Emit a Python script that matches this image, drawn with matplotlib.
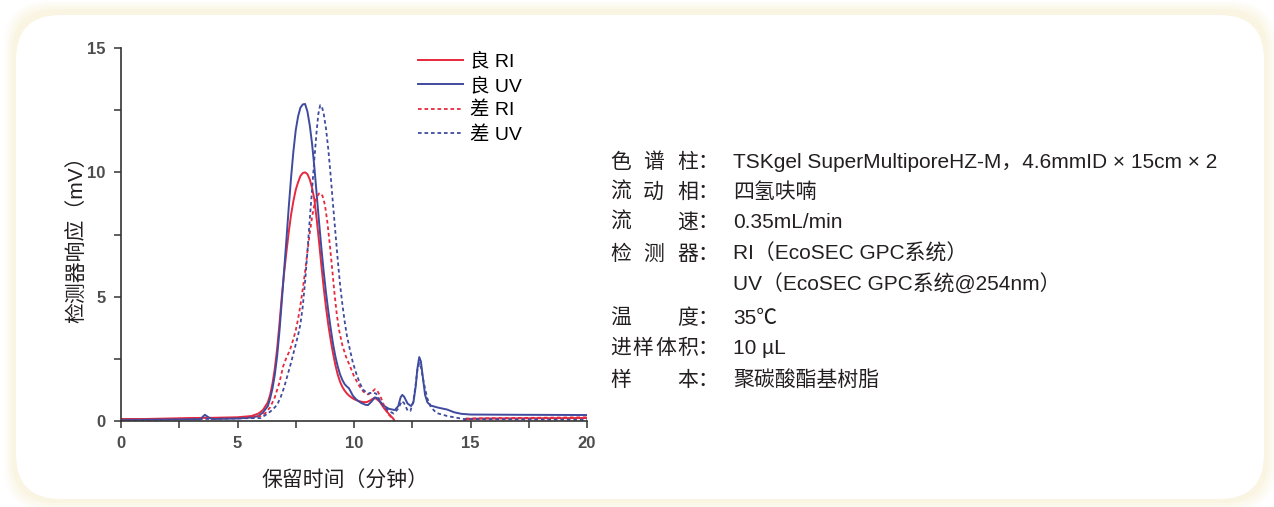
import matplotlib
matplotlib.use("Agg")
import matplotlib.pyplot as plt
from matplotlib.patches import FancyBboxPatch
from matplotlib.ticker import MultipleLocator

plt.rcParams['font.family'] = ['Liberation Sans', 'Noto Sans CJK SC', 'DejaVu Sans']

# chromatogram traces: retention time (min) / detector response (mV)
good_ri_t = [0, 1, 2, 3, 4, 5, 5.6, 5.9, 6.1, 6.3, 6.4, 6.5, 6.6, 6.7, 6.8, 6.9, 7.0, 7.1,
             7.2, 7.3, 7.4, 7.5, 7.6, 7.7, 7.8, 7.9, 8.0, 8.1, 8.2, 8.3, 8.4, 8.5, 8.6, 8.7,
             8.8, 8.9, 9.0, 9.1, 9.2, 9.3, 9.4, 9.5, 9.6, 9.7, 9.8, 9.9, 10.0, 10.2, 10.4,
             10.55, 10.7, 10.85, 10.95, 11.1, 11.3, 11.5, 11.7, 11.85, 12.2, 14.5, 14.8,
             15.5, 20]
good_ri_v = [0.08, 0.08, 0.1, 0.12, 0.13, 0.15, 0.2, 0.3, 0.45, 0.75, 1.05, 1.5, 2.1, 2.9,
             3.9, 5.0, 5.95, 6.8, 7.6, 8.3, 8.85, 9.3, 9.6, 9.85, 9.97, 10.0, 9.93, 9.72,
             9.38, 8.9, 8.1, 7.2, 6.25, 5.35, 4.55, 3.85, 3.25, 2.72, 2.25, 1.87, 1.58, 1.37,
             1.22, 1.1, 1.01, 0.94, 0.88, 0.8, 0.76, 0.76, 0.83, 0.92, 0.9, 0.78, 0.5, 0.28,
             0.08, -0.3, -0.6, -0.3, 0.08, 0.1, 0.12]

good_uv_t = [0, 3.4, 3.6, 3.75, 3.9, 5, 5.6, 5.9, 6.1, 6.3, 6.4, 6.5, 6.6, 6.7, 6.8, 6.9,
             7.0, 7.1, 7.2, 7.3, 7.4, 7.5, 7.6, 7.7, 7.8, 7.9, 8.0, 8.1, 8.2, 8.3, 8.4, 8.5,
             8.6, 8.7, 8.8, 8.9, 9.0, 9.1, 9.2, 9.3, 9.4, 9.5, 9.6, 9.7, 9.78, 9.85, 9.95,
             10.1, 10.3, 10.5, 10.6, 10.75, 10.9, 11.0, 11.15, 11.3, 11.5, 11.75, 11.9, 12.0,
             12.07, 12.15, 12.3, 12.45, 12.55, 12.65, 12.72, 12.8, 12.87, 12.95, 13.05, 13.15,
             13.3, 13.6, 14.0, 14.3, 14.6, 15, 17, 20]
good_uv_v = [0.05, 0.07, 0.25, 0.15, 0.08, 0.1, 0.14, 0.2, 0.35, 0.6, 0.9, 1.3, 1.85, 2.6,
             3.6, 4.8, 6.05, 7.3, 8.6, 9.8, 10.85, 11.7, 12.25, 12.6, 12.73, 12.75, 12.45,
             11.9, 11.15, 10.2, 9.1, 8.0, 6.95, 6.0, 5.15, 4.4, 3.72, 3.1, 2.6, 2.2, 1.88,
             1.65, 1.48, 1.38, 1.32, 1.2, 1.02, 0.86, 0.73, 0.65, 0.64, 0.78, 0.95, 0.92,
             0.75, 0.6, 0.49, 0.44, 0.6, 0.95, 1.05, 0.98, 0.7, 0.6, 0.75, 1.4, 2.1, 2.57,
             2.4, 1.8, 1.05, 0.75, 0.62, 0.54, 0.46, 0.35, 0.29, 0.26, 0.25, 0.24]

poor_ri_t = [0, 5, 6.0, 6.2, 6.4, 6.6, 6.8, 6.96, 7.1, 7.25, 7.4, 7.5, 7.6, 7.7, 7.8, 7.9,
             8.0, 8.1, 8.2, 8.3, 8.4, 8.5, 8.55, 8.65, 8.75, 8.85, 8.95, 9.05, 9.15, 9.26,
             9.35, 9.5, 9.65, 9.83, 10.0, 10.2, 10.4, 10.6, 10.75, 10.9, 11.0, 11.15, 11.3,
             11.45, 11.7, 11.9, 14.6, 14.8, 20]
poor_ri_v = [0.05, 0.12, 0.2, 0.32, 0.55, 0.95, 1.55, 2.2, 2.55, 2.85, 3.3, 3.65, 4.1, 4.65,
             5.3, 6.0, 6.8, 7.55, 8.2, 8.7, 9.0, 9.15, 9.17, 9.05, 8.7, 8.05, 7.2, 6.25, 5.25,
             4.3, 3.7, 3.05, 2.6, 2.2, 1.8, 1.45, 1.18, 1.07, 1.15, 1.28, 1.22, 0.95, 0.6,
             0.3, 0.05, -0.3, -0.3, 0.1, 0.15]

poor_uv_t = [0, 6.0, 6.3, 6.5, 6.7, 6.85, 7.0, 7.15, 7.3, 7.45, 7.6, 7.7, 7.8, 7.9, 8.0,
             8.1, 8.2, 8.3, 8.4, 8.47, 8.55, 8.62, 8.7, 8.8, 8.9, 9.0, 9.1, 9.2, 9.3, 9.4,
             9.5, 9.6, 9.7, 9.83, 9.95, 10.1, 10.25, 10.4, 10.6, 10.8, 10.95, 11.1, 11.25,
             11.5, 11.7, 11.9, 12.05, 12.15, 12.3, 12.42, 12.55, 12.65, 12.72, 12.8, 12.88,
             12.95, 13.05, 13.15, 13.3, 13.55, 14.0, 14.7, 20]
poor_uv_v = [0.03, 0.12, 0.3, 0.45, 0.65, 0.95, 1.35, 1.85, 2.35, 2.9, 3.45, 3.9, 4.6, 5.6,
             6.8, 8.1, 9.3, 10.55, 11.7, 12.35, 12.7, 12.65, 12.35, 11.75, 10.9, 9.85, 8.7,
             7.6, 6.5, 5.5, 4.7, 4.0, 3.4, 2.85, 2.35, 1.9, 1.52, 1.25, 1.1, 1.15, 1.1, 0.85,
             0.6, 0.4, 0.3, 0.5, 0.8, 0.72, 0.42, 0.4, 0.8, 1.5, 2.05, 2.33, 2.15, 1.75, 1.3,
             0.9, 0.55, 0.32, 0.2, 0.08, 0.05]

series_labels = ['良 RI', '良 UV', '差 RI', '差 UV']

cond_keys = ['色谱柱', '流动相', '流速', '检测器', '', '温度', '进样体积', '样本']
cond_vals = ['TSKgel SuperMultiporeHZ-M，4.6mmID × 15cm × 2',
             '四氢呋喃',
             '0.35mL/min',
             'RI（EcoSEC GPC系统）',
             'UV（EcoSEC GPC系统@254nm）',
             '35℃',
             '10 µL',
             '聚碳酸酯基树脂']

RED = '#e8283c'
BLUE = '#3f4b9e'
INK = '#231f20'

W, H = 1274, 507
fig = plt.figure(figsize=(W / 100, H / 100), dpi=100)
fig.patch.set_facecolor('white')

# faint cream halo behind a rounded white panel
for i, a in enumerate([0.05, 0.06, 0.07, 0.08, 0.1]):
    g = 10 - 2 * i
    fig.patches.append(FancyBboxPatch(
        ((14 - g) / W, (6 - g) / H), (1252 + 2 * g) / W, (490 + 2 * g) / H,
        boxstyle='round,pad=0,rounding_size=0.035', transform=fig.transFigure,
        facecolor='#f7e3a8', edgecolor='none', alpha=a, zorder=0, mutation_aspect=W / H))
fig.patches.append(FancyBboxPatch(
    (16 / W, 8 / H), 1248 / W, 484 / H,
    boxstyle='round,pad=0,rounding_size=0.035', transform=fig.transFigure,
    facecolor='white', edgecolor='none', zorder=1, mutation_aspect=W / H))

ax = fig.add_axes([121 / W, (H - 421) / H, 466 / W, 373 / H])
ax.set_facecolor('none')
ax.set_zorder(2)

ax.plot(good_ri_t, good_ri_v, color=RED, lw=1.4, label=series_labels[0])
ax.plot(good_uv_t, good_uv_v, color=BLUE, lw=1.4, label=series_labels[1])
ax.plot(poor_ri_t, poor_ri_v, color=RED, lw=1.3, ls=(0, (2, 1.6)), label=series_labels[2])
ax.plot(poor_uv_t, poor_uv_v, color=BLUE, lw=1.3, ls=(0, (2, 1.6)), label=series_labels[3])

ax.set_xlim(0, 20)
ax.set_ylim(0, 15)
for s in ['top', 'right']:
    ax.spines[s].set_visible(False)
for s in ['left', 'bottom']:
    ax.spines[s].set_color('#333333')
    ax.spines[s].set_linewidth(1.2)
ax.xaxis.set_major_locator(MultipleLocator(5))
ax.xaxis.set_minor_locator(MultipleLocator(2.5))
ax.yaxis.set_major_locator(MultipleLocator(5))
ax.yaxis.set_minor_locator(MultipleLocator(2.5))
ax.tick_params(which='both', direction='out', length=5, width=1.1, color='#333333')
ax.tick_params(which='major', labelsize=12, labelcolor='#4d4d4d', pad=6)
for lab in ax.get_xticklabels() + ax.get_yticklabels():
    lab.set_fontweight('bold')

ax.set_xlabel('保留时间（分钟）', fontsize=15, color=INK, va='center')
ax.xaxis.set_label_coords(0.48, -0.16)
ax.set_ylabel('检测器响应（mV）', fontsize=15, color=INK, va='center')
ax.yaxis.set_label_coords(-0.097, 0.5)

ax.legend(loc='upper left', bbox_to_anchor=(410 / W, 1 - 45 / H),
          bbox_transform=fig.transFigure, frameon=False, fontsize=14,
          handlelength=2.3, handletextpad=0.4, labelspacing=0.34, borderaxespad=0)

# experimental conditions table
row_y = [162, 192, 222, 254, 284, 318, 348, 380]
char_x = {1: [610], 2: [610, 677], 3: [610, 643, 677], 4: [610, 632, 655, 677]}
for key, val, y in zip(cond_keys, cond_vals, row_y):
    yf = 1 - y / H
    if key:
        for ch, x in zip(key, char_x[len(key)]):
            fig.text(x / W, yf, ch, fontsize=15, color=INK, va='center', ha='left',
                     family='Noto Sans CJK SC', zorder=3)
        fig.text(697 / W, yf, '：', fontsize=15, color=INK, va='center', ha='left',
                 family='Noto Sans CJK SC', zorder=3)
    fig.text(733 / W, yf, val, fontsize=15, color=INK, va='center', ha='left', zorder=3)

fig.savefig('out.png', dpi=100, facecolor=fig.get_facecolor())
